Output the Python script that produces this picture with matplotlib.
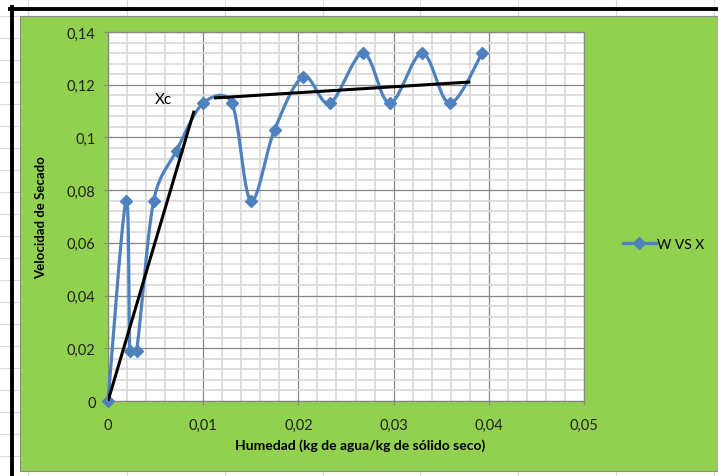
import matplotlib.pyplot as plt
import matplotlib.patches as patches
from matplotlib.lines import Line2D
import numpy as np

plt.rcParams['font.family'] = ['Lato', 'DejaVu Sans']

# datos
humedad = [0.0, 0.0019, 0.0023, 0.0030, 0.0048, 0.0072, 0.0100, 0.0130,
           0.0150, 0.0175, 0.0205, 0.0233, 0.0268, 0.0296, 0.0330, 0.0359, 0.0393]
velocidad = [0.0, 0.076, 0.019, 0.019, 0.076, 0.095, 0.113, 0.113,
             0.076, 0.103, 0.123, 0.113, 0.132, 0.113, 0.132, 0.113, 0.132]

# rectas tangentes (periodo decreciente y constante)
recta1_x = [0.0, 0.0090]
recta1_y = [0.0, 0.1096]
recta2_x = [0.0113, 0.0379]
recta2_y = [0.1150, 0.1210]

xticks = [0, 0.01, 0.02, 0.03, 0.04, 0.05]
xtick_labels = ['0', '0,01', '0,02', '0,03', '0,04', '0,05']
yticks = [0, 0.02, 0.04, 0.06, 0.08, 0.10, 0.12, 0.14]
ytick_labels = ['0', '0,02', '0,04', '0,06', '0,08', '0,1', '0,12', '0,14']

azul = '#4F81BD'
verde = '#92D050'
W, H = 718, 477


def limitar(v, lmax):
    n = np.hypot(*v)
    return v * (lmax / n) if n > lmax else v


def suavizar(x, y, sx, sy, n=24):
    # curva suavizada tipo Excel (Catmull-Rom, control limitado al tramo)
    p = np.column_stack([np.array(x) * sx, np.array(y) * sy])
    p = np.vstack([p[0], p, p[-1]])
    xs, ys = [], []
    t = np.linspace(0, 1, n)[:, None]
    for i in range(1, len(p) - 2):
        p0, p1, p2, p3 = p[i - 1], p[i], p[i + 1], p[i + 2]
        L = np.hypot(*(p2 - p1)) * 0.5
        c1 = p1 + limitar((p2 - p0) / 6, L)
        c2 = p2 - limitar((p3 - p1) / 6, L)
        b = ((1 - t) ** 3) * p1 + 3 * ((1 - t) ** 2) * t * c1 + 3 * (1 - t) * t ** 2 * c2 + t ** 3 * p2
        xs.extend(b[:, 0] / sx)
        ys.extend(b[:, 1] / sy)
    return xs, ys


fig = plt.figure(figsize=(W / 100, H / 100), dpi=100)
fig.patch.set_facecolor('white')

# cuadrícula de la hoja de cálculo
for xp in [28, 127, 225, 323, 420, 518, 616, 714]:
    fig.add_artist(Line2D([xp / W, xp / W], [0, 1], color='#DADADA', lw=0.8, zorder=-3))
for yp in range(17, H, 22):
    fig.add_artist(Line2D([0, 1], [1 - yp / H, 1 - yp / H], color='#DADADA', lw=0.8, zorder=-3))

# marco negro
fig.add_artist(Line2D([11.5 / W, 11.5 / W], [0, 1 - 8 / H], color='black', lw=2.8, zorder=-1))
fig.add_artist(Line2D([10 / W, 1], [1 - 9.5 / H, 1 - 9.5 / H], color='black', lw=2.8, zorder=-1))

# área del gráfico
fig.add_artist(patches.Rectangle((20 / W, 1 - 472 / H), (W - 20) / W, (472 - 17) / H,
                                 transform=fig.transFigure, facecolor=verde,
                                 edgecolor='#8C8C8C', lw=0.8, zorder=-2))

ax = fig.add_axes([108 / W, 1 - 402 / H, (584 - 108) / W, (402 - 33) / H])
ax.set_facecolor('white')
ax.set_xlim(0, 0.05)
ax.set_ylim(0, 0.14)
ax.set_xticks(xticks)
ax.set_xticklabels(xtick_labels)
ax.set_yticks(yticks)
ax.set_yticklabels(ytick_labels)
ax.set_xticks(np.arange(0, 0.0501, 0.002), minor=True)
ax.set_yticks(np.arange(0, 0.1401, 0.004), minor=True)
ax.grid(which='minor', color='#D9D9D9', lw=1.2)
ax.grid(which='major', color='#868686', lw=0.9)
ax.set_axisbelow(True)
for s in ax.spines.values():
    s.set_color('#868686')
    s.set_linewidth(0.9)
ax.tick_params(which='major', length=3, color='#868686', labelsize=10.5,
               labelcolor='#222222', pad=6)
ax.tick_params(axis='x', pad=9)
ax.tick_params(which='minor', length=0)

# escala en píxeles para el suavizado
px_x = (584 - 108) / 0.05
px_y = (402 - 33) / 0.14
sx, sy = suavizar(humedad, velocidad, px_x, px_y)
ax.plot(sx, sy, color=azul, lw=2.3, clip_on=False, zorder=3)
ax.plot(humedad, velocidad, ls='none', marker='D', ms=6, color=azul,
        clip_on=False, zorder=4)

ax.plot(recta1_x, recta1_y, color='black', lw=2.2, zorder=5)
ax.plot(recta2_x, recta2_y, color='black', lw=2.2, zorder=5)
ax.text(0.0058, 0.1146, 'Xc', fontsize=11, va='center', ha='center')

ax.set_xlabel('Humedad (kg de agua/kg de sólido seco)', fontsize=10, fontweight='bold')
ax.xaxis.set_label_coords((360 - 108) / 476, -37 / 369)
ax.set_ylabel('Velocidad de Secado', fontsize=9.5, fontweight='bold', labelpad=14)

leg_handle = Line2D([], [], color=azul, lw=2.3, marker='D', ms=6)
fig.legend([leg_handle], ['W VS X'], loc='center left', frameon=False,
           bbox_to_anchor=(610 / W, 1 - 245 / H), handlelength=2.4,
           handletextpad=0.1, fontsize=10)

fig.savefig('out.png', dpi=100)
